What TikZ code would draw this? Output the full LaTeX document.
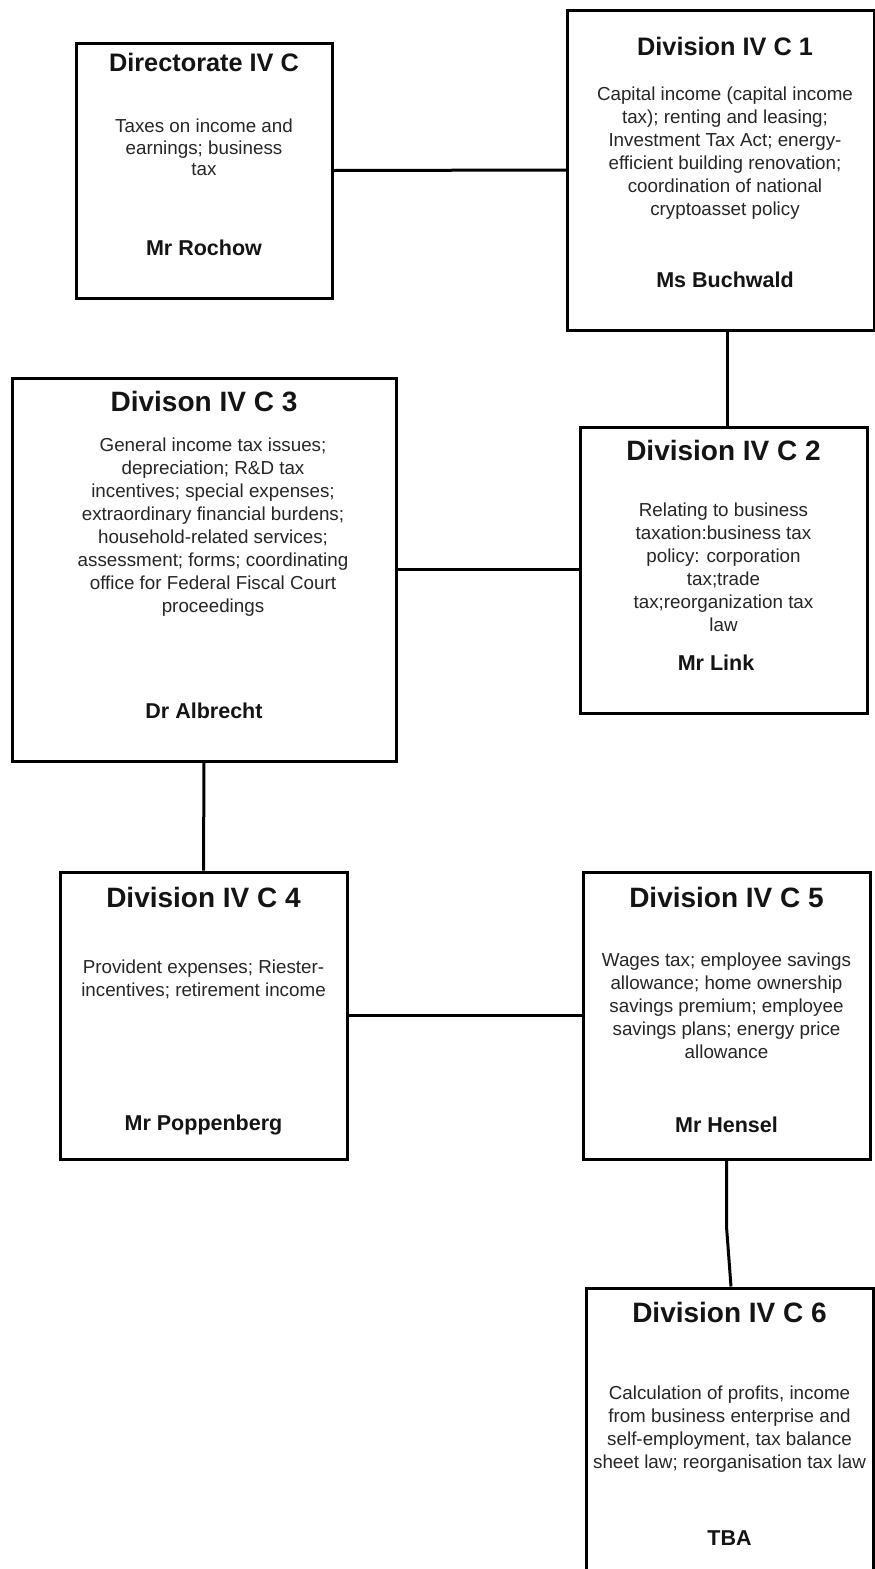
\documentclass[tikz,border=0pt]{standalone}
\usepackage{fontspec}
\setmainfont{Liberation Sans}
\begin{document}
\begin{tikzpicture}[x=1pt,y=-1pt,
  box/.style={draw=black, line width=3pt, rectangle, inner sep=0pt, fill=white},
  link/.style={draw=black, line width=3pt},
  ttl/.style={font=\fontsize{28}{32}\selectfont\bfseries, inner sep=0pt, text=black!92},
  ttlsm/.style={font=\fontsize{25.3}{29}\selectfont\bfseries, inner sep=0pt, text=black!92},
  body/.style={font=\fontsize{18.8}{23}\selectfont, align=center, inner sep=0pt, text=black!85},
  who/.style={font=\fontsize{21.5}{25}\selectfont\bfseries, inner sep=0pt, text=black!92}]
\clip (0,0) rectangle (875,1569);
\fill[white] (0,0) rectangle (875,1569);
% boxes
\node[box, minimum width=256pt, minimum height=255pt] (dir) at (204,170.5) {};
\node[box, minimum width=307pt, minimum height=320pt] (c1) at (721,170) {};
\node[box, minimum width=287pt, minimum height=286pt] (c2) at (723.5,570) {};
\node[box, minimum width=384pt, minimum height=383pt] (c3) at (204,569.5) {};
\node[box, minimum width=287pt, minimum height=287pt] (c4) at (203.5,1015.5) {};
\node[box, minimum width=287pt, minimum height=287pt] (c5) at (726.5,1015.5) {};
\node[box, minimum width=287pt, minimum height=320pt] (c6) at (729.5,1448) {};
% connectors
\coordinate (k12) at (727,0);
\draw[link] (dir.east) -- (c1.west);
\draw[link] (c1.south -| k12) -- (c2.north -| k12);
\draw[link] (c3.east) -- (c3.east -| c2.west);
\draw[link] (c3.south) -- (c4.north);
\draw[link] (c4.east) -- (c5.west);
\draw[link] (c5.south) -- ++(0,66) -- ([xshift=1.5pt]c6.north);
% Directorate
\node[ttlsm] (dirT) at (204,62) {Directorate IV C};
\node[body, font=\fontsize{18.8}{21.5}\selectfont] (dirB) at (204,147.5) {Taxes on income and\\earnings; business\\tax};
\node[who] (dirN) at (204,248) {Mr Rochow};
% C1
\node[ttlsm] (c1T) at (725,46) {Division IV C 1};
\node[body] (c1B) at (725,153.5) {Capital income (capital income\\tax); renting and leasing;\\Investment Tax Act; energy-\\efficient building renovation;\\coordination of national\\cryptoasset policy};
\node[who] (c1N) at (725,280) {Ms Buchwald};
% C2
\node[ttl] (c2T) at (723.5,450) {Division IV C 2};
\node[body] (c2B) at (723.5,567) {Relating to business\\taxation:business tax\\policy: corporation\\tax;trade\\tax;reorganization tax\\law};
\node[who] (c2N) at (716,663) {Mr Link};
% C3
\node[ttl] (c3T) at (204,402) {Divison IV C 3};
\node[body] (c3B) at (213,527.5) {General income tax issues;\\depreciation; R\&D tax\\incentives; special expenses;\\extraordinary financial burdens;\\household-related services;\\assessment; forms; coordinating\\office for Federal Fiscal Court\\proceedings};
\node[who] (c3N) at (204,711) {Dr Albrecht};
% C4
\node[ttl] (c4T) at (203.5,897) {Division IV C 4};
\node[body] (c4B) at (203.5,979) {Provident expenses; Riester-\\incentives; retirement income};
\node[who] (c4N) at (203.5,1125) {Mr Poppenberg};
% C5
\node[ttl] (c5T) at (726.5,897) {Division IV C 5};
\node[body] (c5B) at (726.5,1005.5) {Wages tax; employee savings\\allowance; home ownership\\savings premium; employee\\savings plans; energy price\\allowance};
\node[who] (c5N) at (726.5,1125) {Mr Hensel};
% C6
\node[ttl] (c6T) at (729.5,1312) {Division IV C 6};
\node[body] (c6B) at (729.5,1429) {Calculation of profits, income\\from business enterprise and\\self-employment, tax balance\\sheet law; reorganisation tax law};
\node[who] (c6N) at (729.5,1538) {TBA};
\end{tikzpicture}
\end{document}
